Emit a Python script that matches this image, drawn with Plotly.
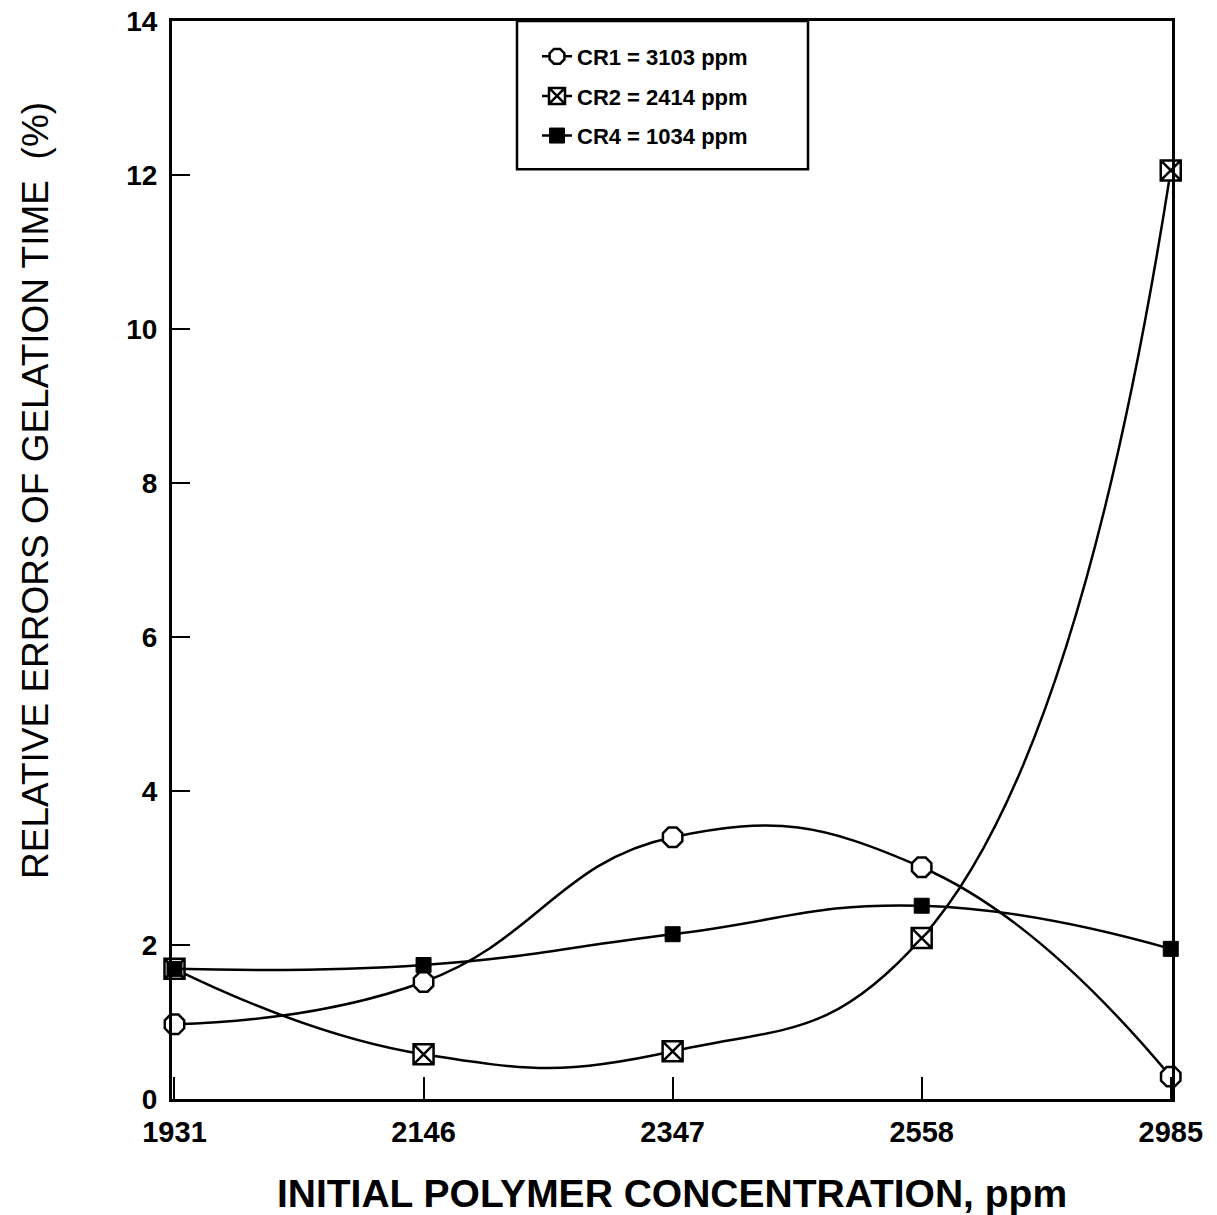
import plotly.graph_objects as go

categories = ["1931", "2146", "2347", "2558", "2985"]
cr1 = [0.97, 1.52, 3.40, 3.01, 0.29]
cr2 = [1.69, 0.58, 0.62, 2.09, 12.06]
cr4 = [1.69, 1.74, 2.14, 2.51, 1.95]
y_ticks = [0, 2, 4, 6, 8, 10, 12, 14]

xpos = list(range(len(categories)))

FONT = "Liberation Sans, Arial, sans-serif"

fig = go.Figure()
fig.add_trace(go.Scatter(
    x=xpos, y=cr1, name="CR1 = 3103 ppm", mode="lines+markers", legendgroup="a",
    line=dict(color="black", width=2.5, shape="spline", smoothing=1.3),
    marker=dict(symbol="octagon", size=21, color="white", line=dict(color="black", width=2.5)),
    cliponaxis=False))
fig.add_trace(go.Scatter(
    x=xpos, y=cr2, name="CR2 = 2414 ppm", mode="lines+markers", legendgroup="b",
    line=dict(color="black", width=2.5, shape="spline", smoothing=1.3),
    marker=dict(symbol="square-x", size=20, color="white", line=dict(color="black", width=2.5)),
    cliponaxis=False))
fig.add_trace(go.Scatter(
    x=xpos, y=cr4, name="CR4 = 1034 ppm", mode="lines+markers", legendgroup="c",
    line=dict(color="black", width=2.5, shape="spline", smoothing=1.3),
    marker=dict(symbol="square", size=15, color="black", line=dict(color="black", width=1)),
    cliponaxis=False))

# legend frame (paper coords)
fig.add_shape(type="rect", xref="paper", yref="paper",
              x0=0.345, x1=0.636, y0=0.8625, y1=1.0,
              line=dict(color="black", width=2.5), fillcolor="rgba(0,0,0,0)", layer="above")

fig.add_annotation(
    text="RELATIVE ERRORS OF GELATION TIME  (%)", textangle=-90,
    xref="paper", yref="paper", x=-0.137, y=0.564, xanchor="center", yanchor="middle",
    showarrow=False, font=dict(size=37, family=FONT))

fig.update_layout(
    width=1217, height=1215,
    margin=dict(l=172, r=45, t=21, b=116),
    plot_bgcolor="white", paper_bgcolor="white",
    font=dict(family=FONT, color="black"),
    showlegend=True,
    legend=dict(
        x=0.365, y=0.9865, xanchor="left", yanchor="top",
        borderwidth=0, bgcolor="rgba(0,0,0,0)",
        font=dict(size=22, family=FONT, weight="bold"),
        tracegroupgap=8, itemwidth=30,
    ),
    xaxis=dict(
        range=[-0.01, 4.005], tickvals=xpos, ticktext=categories,
        showgrid=False, zeroline=False, automargin=False,
        showline=True, linecolor="black", linewidth=3, mirror=True,
        ticks="inside", ticklen=22, tickwidth=2, tickcolor="black",
        ticklabelstandoff=5,
        tickfont=dict(size=29, weight="bold"),
        title=dict(text="INITIAL POLYMER CONCENTRATION, ppm", standoff=36,
                   font=dict(size=39, weight="bold")),
    ),
    yaxis=dict(
        range=[0, 14], tickvals=y_ticks,
        showgrid=False, zeroline=False, automargin=False,
        showline=True, linecolor="black", linewidth=3, mirror=True,
        ticks="inside", ticklen=18, tickwidth=2, tickcolor="black",
        ticklabelstandoff=6,
        tickfont=dict(size=28, weight="bold"),
    ),
)

fig.write_html("out.html")
